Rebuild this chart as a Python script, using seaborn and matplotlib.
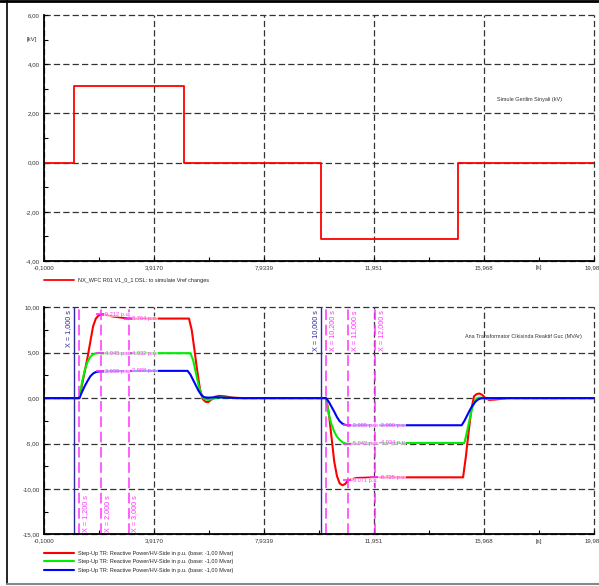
import matplotlib
matplotlib.use("Agg")
import matplotlib.pyplot as plt
import seaborn as sns
from matplotlib.lines import Line2D

# --- data ---
# voltage reference signal (kV)
sig_t = [-0.1, 1.0, 1.0, 5.0, 5.0, 10.0, 10.0, 15.0, 15.0, 19.985]
sig_v = [0.0, 0.0, 3.1, 3.1, 0.0, 0.0, -3.1, -3.1, 0.0, 0.0]

# reactive power responses (p.u.)
red_t = [-0.1, 1.2, 1.3, 1.4, 1.5, 1.6, 1.7, 1.8, 1.9, 2.0, 2.1, 2.4, 3.0, 5.2, 5.3, 5.4, 5.5, 5.6,
         5.7, 5.8, 5.9, 6.0, 6.15, 6.3, 6.5, 6.8, 7.2, 10.2, 10.3, 10.4, 10.5, 10.6, 10.7, 10.8,
         10.9, 11.0, 11.3, 12.0, 15.2, 15.3, 15.4, 15.5, 15.6, 15.7, 15.8, 15.9, 16.0, 16.15,
         16.4, 16.8, 19.985]
red_v = [0.0, 0.0, 1.5, 3.0, 4.5, 6.2, 7.9, 8.75, 9.1, 9.21, 9.2, 9.0, 8.76, 8.76, 7.5, 5.3, 3.0, 1.0,
         -0.1, -0.4, -0.45, -0.2, 0.15, 0.25, 0.2, 0.05, 0.0, 0.0, -1.6, -4.3, -7.0, -8.6, -9.4, -9.6,
         -9.45, -9.07, -8.8, -8.725, -8.725, -6.5, -3.8, -1.3, 0.2, 0.45, 0.5, 0.35, 0.05, -0.2,
         -0.15, 0.0, 0.0]

green_t = [-0.1, 1.2, 1.3, 1.4, 1.5, 1.6, 1.7, 1.8, 1.9, 2.0, 2.5, 3.0, 3.5, 5.25, 5.35, 5.45, 5.55,
           5.65, 5.75, 5.9, 6.1, 6.3, 6.6, 7.0, 10.2, 10.3, 10.4, 10.5, 10.6, 10.7, 10.8, 10.9, 11.0,
           11.5, 12.0, 12.5, 15.25, 15.35, 15.45, 15.55, 15.65, 15.75, 15.9, 16.1, 16.4, 16.8, 19.985]
green_v = [0.0, 0.0, 1.8, 3.1, 4.0, 4.55, 4.82, 4.93, 4.96, 4.945, 4.93, 4.932, 4.95, 4.95, 4.2, 2.8, 1.4,
           0.4, -0.1, -0.2, -0.05, 0.1, 0.05, 0.0, 0.0, -1.8, -2.9, -3.7, -4.25, -4.6, -4.85, -5.0, -5.042,
           -4.97, -4.934, -4.94, -4.94, -3.6, -2.2, -0.9, -0.2, 0.05, 0.05, -0.1, -0.05, 0.0, 0.0]

blue_t = [-0.1, 1.2, 1.3, 1.4, 1.5, 1.6, 1.7, 1.8, 1.9, 2.0, 2.5, 3.0, 3.5, 5.15, 5.25, 5.35, 5.45,
          5.55, 5.65, 5.75, 5.9, 6.2, 6.5, 7.0, 10.2, 10.3, 10.4, 10.5, 10.6, 10.7, 10.8, 10.9, 11.0,
          12.0, 15.15, 15.25, 15.35, 15.45, 15.55, 15.65, 15.75, 15.85, 16.0, 19.985]
blue_v = [0.0, 0.0, 0.7, 1.35, 1.9, 2.4, 2.7, 2.87, 2.92, 2.939, 2.97, 2.988, 3.0, 3.0, 2.6, 2.0, 1.4,
          0.8, 0.35, 0.1, 0.05, 0.1, 0.05, 0.0, 0.0, -0.4, -0.95, -1.5, -2.1, -2.55, -2.82, -2.95, -2.995,
          -2.99, -2.99, -2.5, -1.9, -1.3, -0.8, -0.4, -0.15, -0.03, 0.0, 0.0]

# cursor markers
blue_cursors = [1.0, 10.0]
pink_cursors = [1.2, 2.0, 3.0, 10.2, 11.0, 12.0]
mark_t = [2.0, 3.0, 11.0, 12.0]
red_marks = [9.212, 8.764, -9.071, -8.725]
green_marks = [4.945, 4.932, -5.042, -4.934]
blue_marks = [2.939, 2.988, -2.995, -2.990]

x_ticks = [-0.1, 3.917, 7.9339, 11.951, 15.968, 19.985]
x_labels = ["-0,1000", "3,9170", "7,9339", "11,951", "15,968", "19,985"]

sig_label = "NX_WFC R01 V1_0_1 DSL: to simulate Vref changes"
q_label = "Step-Up TR: Reactive Power/HV-Side in p.u. (base: -1,00 Mvar)"

sns.set_style("white")
plt.rcParams["font.family"] = ["Liberation Sans", "DejaVu Sans"]

fig = plt.figure(figsize=(5.99, 5.86), dpi=100)
ax1 = fig.add_axes([0.073, 0.5546, 0.919, 0.4198])
ax2 = fig.add_axes([0.073, 0.0882, 0.919, 0.3874])

grid_kw = dict(color="#333333", linestyle=(0, (5, 2.5)), linewidth=0.9)
TXT = "#333333"
PINK = "#ff33ff"
NAVY = "#2a2a9a"


def style_axis(ax, yticks, ylabels, yminor, s_off):
    ax.set_xlim(-0.1, 19.985)
    ax.set_xticks(x_ticks)
    ax.set_xticklabels(x_labels)
    ax.set_xticks([(a + b) / 2 for a, b in zip(x_ticks[:-1], x_ticks[1:])], minor=True)
    ax.set_yticks(yticks)
    ax.set_yticklabels(ylabels)
    ax.set_yticks(yminor, minor=True)
    ax.set_ylim(yticks[0], yticks[-1])
    ax.grid(True, which="major", **grid_kw)
    for g in ax.get_xgridlines() + ax.get_ygridlines():
        g.set_clip_on(False)
    for s in ["top", "right"]:
        ax.spines[s].set_visible(False)
    for s in ["left", "bottom"]:
        ax.spines[s].set_color("black")
        ax.spines[s].set_linewidth(1.3)
        ax.spines[s].set_zorder(6)
    ax.tick_params(which="both", direction="in", length=3, width=0.8, colors="black",
                   labelsize=4.4, labelcolor=TXT, left=True, bottom=True, pad=3)
    ax.set_xlabel("")
    ax.set_ylabel("")
    ax.text(17.98, s_off, "[s]", transform=ax.get_xaxis_transform(), ha="center", va="top",
            fontsize=4.4, color=TXT)


# top panel
sns.lineplot(x=sig_t, y=sig_v, ax=ax1, color="#ff0000", linewidth=1.3, sort=False,
             estimator=None, label=sig_label)
style_axis(ax1, [-4, -2, 0, 2, 4, 6], ["-4,00", "-2,00", "0,00", "2,00", "4,00", "6,00"],
           [-3, -1, 1, 3, 5], -0.017)
ax1.text(-0.012, 5.0, "[kV]", transform=ax1.get_yaxis_transform(), ha="right", va="center",
         fontsize=4.4, color=TXT)
ax1.text(16.44, 2.55, "Simule Gerilim Sinyali (kV)", fontsize=4.0, color=TXT, va="center")
ax1.legend(loc="upper left", bbox_to_anchor=(0, -0.069), frameon=False, fontsize=4.0,
           handlelength=5.4, handletextpad=0.7, borderpad=0, borderaxespad=0)

# bottom panel
for t, v, c in [(red_t, red_v, "#ff0000"), (green_t, green_v, "#00ee00"), (blue_t, blue_v, "#0000ff")]:
    sns.lineplot(x=t, y=v, ax=ax2, color=c, linewidth=1.5, sort=False, estimator=None,
                 label=q_label, zorder=3)
style_axis(ax2, [-15, -10, -5, 0, 5, 10], ["-15,00", "-10,00", "-5,00", "0,00", "5,00", "10,00"],
           [-12.5, -7.5, -2.5, 2.5, 7.5], -0.019)
ax2.text(15.28, 6.76, "Ana Transformator Cikisinda Reaktif Guc (MVAr)", fontsize=3.9,
         color=TXT, va="center")

for x in blue_cursors:
    ax2.axvline(x, color=NAVY, linewidth=1.0, zorder=4)
    txt = f"X = {x:.3f} s".replace(".", ",")
    ax2.text(x - 0.07, 9.7, txt, rotation=90, ha="right", va="top", fontsize=5.2, color=NAVY)
for x in pink_cursors:
    ax2.axvline(x, color=PINK, linewidth=1.1, linestyle=(0, (7, 3)), zorder=4)
    txt = f"X = {x:.3f} s".replace(".", ",")
    if x < 5:
        ax2.text(x + 0.1, -14.8, txt, rotation=90, ha="left", va="bottom", fontsize=5.2,
                 color=PINK)
    else:
        ax2.text(x + 0.1, 9.7, txt, rotation=90, ha="left", va="top", fontsize=5.2,
                 color=PINK)

for marks in [red_marks, green_marks, blue_marks]:
    for t, v in zip(mark_t, marks):
        ax2.plot([t], [v], marker="_", markersize=7, color=PINK, mew=1.2, zorder=5)
        ax2.text(t + 0.12, v, f"{v:.3f} p.u.", fontsize=4.1, color=PINK, ha="left",
                 va="center", zorder=6,
                 bbox=dict(facecolor="white", edgecolor="none", alpha=0.65, pad=0.3))

ax2.legend(loc="upper left", bbox_to_anchor=(0, -0.073), frameon=False, fontsize=4.0,
           handlelength=5.4, handletextpad=0.7, borderpad=0, borderaxespad=0,
           labelspacing=0.62)

# outer frame of the export
fig.add_artist(Line2D([0.0125, 0.0125], [0.003, 1.0], transform=fig.transFigure,
                      color="black", linewidth=1.2))
fig.add_artist(Line2D([0.0, 1.0], [0.999, 0.999], transform=fig.transFigure,
                      color="black", linewidth=2))
fig.add_artist(Line2D([0.0125, 1.0], [0.003, 0.003], transform=fig.transFigure,
                      color="#888888", linewidth=1.5))

fig.savefig("out.png", dpi=100)
